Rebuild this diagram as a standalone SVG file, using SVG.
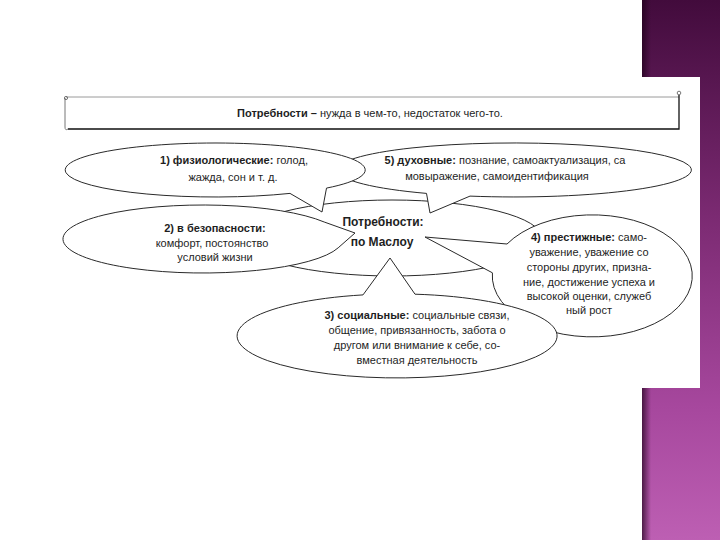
<svg xmlns="http://www.w3.org/2000/svg" width="720" height="540" viewBox="0 0 720 540">
<defs>
<linearGradient id="strip" x1="0" y1="0" x2="0" y2="1">
<stop offset="0" stop-color="#420b3c"/>
<stop offset="0.4" stop-color="#7b2a72"/>
<stop offset="0.75" stop-color="#a6479d"/>
<stop offset="1" stop-color="#bd5fb3"/>
</linearGradient>
<linearGradient id="shade" x1="0" y1="0" x2="1" y2="0">
<stop offset="0" stop-color="#1e0019" stop-opacity="0.7"/>
<stop offset="1" stop-color="#1e0019" stop-opacity="0"/>
</linearGradient>
<style>
.sh{fill:#fff;stroke:#2a2a2a;stroke-width:1}
.t{font-family:"Liberation Sans",Arial,sans-serif;font-size:11px;fill:#1e1e1e;text-anchor:middle}
.b{font-weight:bold}
.c{font-size:12px;font-weight:bold}
</style>
</defs>
<rect width="720" height="540" fill="#fff"/>
<rect x="642" y="0" width="78" height="540" fill="url(#strip)"/>
<rect x="642" y="0" width="9" height="540" fill="url(#shade)"/>
<rect x="60" y="77" width="640" height="311" fill="#fff"/>

<g id="title">
<path d="M66,97 H679" fill="none" stroke="#9a9a9a" stroke-width="1"/>
<path d="M68,129 H679 V95" fill="none" stroke="#111" stroke-width="1.3"/>
<path d="M65,98 V127 Q65,131 68,129" fill="none" stroke="#777" stroke-width="1"/>
<circle cx="66" cy="98" r="1.6" fill="none" stroke="#555" stroke-width="0.8"/>
<circle cx="679" cy="93" r="1.8" fill="none" stroke="#555" stroke-width="0.8"/>
<text class="t" x="370" y="117"><tspan class="b">Потребности –</tspan> нужда в чем-то, недостаток чего-то.</text>
</g>

<g id="center">
<ellipse class="sh" cx="392" cy="238" rx="150" ry="38"/>
<text class="t c" x="383" y="226">Потребности:</text>
<text class="t c" x="382" y="246">по Маслоу</text>
</g>

<g id="n5">
<path class="sh" d="M470,196.1 L430,213 L426.5,193.4 A177,27 0 1 1 470,196.1 Z"/>
<text class="t" x="505" y="164"><tspan class="b">5) духовные:</tspan> познание, самоактуализация, са</text>
<text class="t" x="497" y="180">мовыражение, самоидентификация</text>
</g>

<g id="n4">
<path class="sh" d="M492.4,272.8 L425,237 L507,244 A100,61 0 1 1 492.4,272.8 Z"/>
<text class="t" x="589" y="241"><tspan class="b">4) престижные:</tspan> само-</text>
<text class="t" x="589" y="256">уважение, уважение со</text>
<text class="t" x="589" y="271">стороны других, призна-</text>
<text class="t" x="589" y="286">ние, достижение успеха и</text>
<text class="t" x="589" y="300">высокой оценки, служеб</text>
<text class="t" x="589" y="314">ный рост</text>
</g>

<g id="n3">
<path class="sh" d="M363,294.9 L390,258 L415,294.2 A160,42 0 1 1 363,294.9 Z"/>
<text class="t" x="417" y="319"><tspan class="b">3) социальные:</tspan> социальные связи,</text>
<text class="t" x="417" y="334">общение, привязанность, забота о</text>
<text class="t" x="417" y="349">другом или внимание к себе, со-</text>
<text class="t" x="417" y="364">вместная деятельность</text>
</g>

<g id="n2">
<path class="sh" d="M324.2,222 L355,233 L338.2,247.8 A140,34 0 1 1 324.2,222 Z"/>
<text class="t" x="215" y="232" font-weight="bold">2) в безопасности:</text>
<text class="t" x="212" y="247">комфорт, постоянство</text>
<text class="t" x="215" y="261">условий жизни</text>
</g>

<g id="n1">
<path class="sh" d="M326.5,188.1 L322,212 L290,193.4 A150,27 0 1 1 326.5,188.1 Z"/>
<text class="t" x="234" y="164"><tspan class="b">1) физиологические:</tspan> голод,</text>
<text class="t" x="233" y="181">жажда, сон и т. д.</text>
</g>
</svg>
